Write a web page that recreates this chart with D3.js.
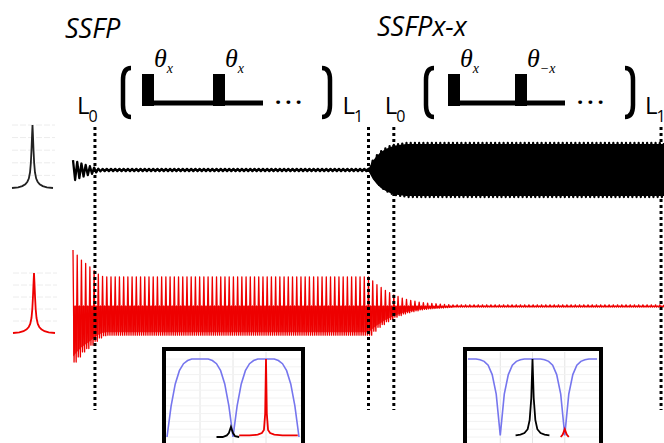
<!DOCTYPE html>
<html>
<head>
<meta charset="utf-8">
<script src="https://cdn.jsdelivr.net/npm/d3@7"></script>
<style>
  body { margin:0; background:#fff; }
  svg { display:block; }
</style>
</head>
<body>
<svg id="fig" width="664" height="443"></svg>
<script>
///////////////////////// DONNEES ////////////////////////
// titres des deux séquences
var blockTitles = ['SSFP', 'SSFPx-x'];
// impulsions de chaque bloc (position relative + label theta / indice)
var pulseT = [0, 1];
var pulseLabels1 = [['θ', 'x'], ['θ', 'x']];
var pulseLabels2 = [['θ', 'x'], ['θ', '−x']];

// repères L0 / L1, en nombre d'impulsions
var markerT = [5.2, 70, 76, 139.3];
var markerSubs = ['0', '1', '0', '1'];

// amplitude du signal à chaque impulsion (0 .. 140)
var blackAmp = [
  0.37, 0.3, 0.24, 0.19, 0.14, 0.09, 0.05,
  0.04, 0.04, 0.04, 0.04, 0.04, 0.04, 0.04, 0.04, 0.04, 0.04,
  0.04, 0.04, 0.04, 0.04, 0.04, 0.04, 0.04, 0.04, 0.04, 0.04,
  0.04, 0.04, 0.04, 0.04, 0.04, 0.04, 0.04, 0.04, 0.04, 0.04,
  0.04, 0.04, 0.04, 0.04, 0.04, 0.04, 0.04, 0.04, 0.04, 0.04,
  0.04, 0.04, 0.04, 0.04, 0.04, 0.04, 0.04, 0.04, 0.04, 0.04,
  0.04, 0.04, 0.04, 0.04, 0.04, 0.04, 0.04, 0.04, 0.04, 0.04,
  0.04, 0.04, 0.04,
  0.05, 0.35, 0.55, 0.7, 0.8, 0.88, 0.93, 0.96, 0.98,
  1, 1, 1, 1, 1, 1, 1, 1, 1, 1,
  1, 1, 1, 1, 1, 1, 1, 1, 1, 1,
  1, 1, 1, 1, 1, 1, 1, 1, 1, 1,
  1, 1, 1, 1, 1, 1, 1, 1, 1, 1,
  1, 1, 1, 1, 1, 1, 1, 1, 1, 1,
  1, 1, 1, 1, 1, 1, 1, 1, 1, 1,
  1, 1
];
var redAmp = [
  1, 0.91, 0.82, 0.76, 0.7, 0.63, 0.57, 0.53,
  0.52, 0.52, 0.52, 0.52, 0.52, 0.52, 0.52, 0.52, 0.52, 0.52,
  0.52, 0.52, 0.52, 0.52, 0.52, 0.52, 0.52, 0.52, 0.52, 0.52,
  0.52, 0.52, 0.52, 0.52, 0.52, 0.52, 0.52, 0.52, 0.52, 0.52,
  0.52, 0.52, 0.52, 0.52, 0.52, 0.52, 0.52, 0.52, 0.52, 0.52,
  0.52, 0.52, 0.52, 0.52, 0.52, 0.52, 0.52, 0.52, 0.52, 0.52,
  0.52, 0.52, 0.52, 0.52, 0.52, 0.52, 0.52, 0.52, 0.52, 0.52,
  0.52, 0.52,
  0.52, 0.45, 0.38, 0.33, 0.28, 0.24, 0.2, 0.17, 0.14, 0.12,
  0.1, 0.085, 0.07, 0.06, 0.05, 0.045, 0.04, 0.035, 0.03, 0.025,
  0.02, 0.02, 0.02, 0.02, 0.02, 0.02, 0.02, 0.02, 0.02, 0.02,
  0.02, 0.02, 0.02, 0.02, 0.02, 0.02, 0.02, 0.02, 0.02, 0.02,
  0.02, 0.02, 0.02, 0.02, 0.02, 0.02, 0.02, 0.02, 0.02, 0.02,
  0.02, 0.02, 0.02, 0.02, 0.02, 0.02, 0.02, 0.02, 0.02, 0.02,
  0.02, 0.02, 0.02, 0.02, 0.02, 0.02, 0.02, 0.02, 0.02, 0.02,
  0.02
];

// petits spectres à gauche (raie lorentzienne)
var specF = [-1, -0.7, -0.5, -0.35, -0.25, -0.18, -0.12, -0.08, -0.05, -0.02, 0,
             0.02, 0.05, 0.08, 0.12, 0.18, 0.25, 0.35, 0.5, 0.7, 1];
var specA = [0, 0.01, 0.03, 0.06, 0.1, 0.15, 0.25, 0.4, 0.6, 0.85, 1,
             0.85, 0.6, 0.4, 0.25, 0.15, 0.1, 0.06, 0.03, 0.01, 0];

// encadrés : profils en fréquence (33 points, indice 0 .. 32)
var blueSSFP = [0, 0.4, 0.68, 0.85, 0.94, 0.98, 1, 1, 1, 1, 1, 0.98, 0.94, 0.85, 0.68, 0.4,
                0, 0.4, 0.68, 0.85, 0.94, 0.98, 1, 1, 1, 1, 1, 0.98, 0.94, 0.85, 0.68, 0.4, 0];
var blueSSFPxx = [1, 1, 1, 0.99, 0.97, 0.92, 0.8, 0.55, 0.02, 0.55, 0.8, 0.92, 0.97, 0.99, 1, 1,
                  1, 1, 1, 0.99, 0.97, 0.92, 0.8, 0.55, 0.02, 0.55, 0.8, 0.92, 0.97, 0.99, 1, 1, 1];
// raies dans les encadrés
var redSSFPf = [17.5, 20, 22, 23, 23.5, 23.8, 24, 24.2, 24.5, 25, 26, 28, 31.7];
var redSSFPv = [0.02, 0.02, 0.03, 0.05, 0.09, 0.3, 1, 0.3, 0.09, 0.05, 0.03, 0.02, 0.02];
var blackSSFPf = [12, 13.5, 14.5, 15, 15.5, 16, 16.5, 17.5];
var blackSSFPv = [0, 0, 0.02, 0.05, 0.13, 0.05, 0.01, 0];
var blackXXf = [11.8, 13, 14, 14.8, 15.3, 15.7, 16, 16.3, 16.7, 17.2, 18, 19, 20.2];
var blackXXv = [0.02, 0.03, 0.05, 0.1, 0.22, 0.5, 1, 0.5, 0.22, 0.1, 0.05, 0.03, 0.02];
var redXXf = [23, 23.5, 24, 24.5, 25];
var redXXv = [0, 0.03, 0.1, 0.03, 0];

//////////////////// STYLES //////////////////////////////
var red = '#ee0000';
var blue = '#7676ee';
var sans = '"Open Sans", sans-serif';
var serif = '"Liberation Serif", serif';

var svg = d3.select('#fig');

//////////////////// SIGNAUX //////////////////////////////
var xT = d3.scaleLinear().domain([0, 140]).range([73, 664]);
var yBlack = d3.scaleLinear().domain([-1, 1]).range([197, 143]);
var yRed = d3.scaleLinear().domain([-1, 1]).range([362, 250]);

// oscillation noire : un aller-retour par impulsion
var blackPts = [];
blackAmp.forEach((a, k) => {
  blackPts.push([k, a]);
  if (k < blackAmp.length - 1) blackPts.push([k + 0.5, -a]);
});
// oscillation rouge : pic vers le haut, plus dense vers le bas
var redPts = [];
redAmp.forEach((a, k) => {
  redPts.push([k, a]);
  if (k < redAmp.length - 1) {
    redPts.push([k + 0.25, -a]);
    redPts.push([k + 0.5, 0]);
    redPts.push([k + 0.75, -a]);
  }
});

// enveloppe noire pleine (la bande est saturée sur la figure), après le transitoire
svg.append('path')
  .attr('d', d3.area()
    .defined((d, k) => k >= 7)
    .x((d, k) => xT(k))
    .y0(d => yBlack(-d * 0.96))
    .y1(d => yBlack(d * 0.96))(blackAmp))
  .attr('fill', '#000');

svg.append('path')
  .attr('d', d3.line().x(d => xT(d[0])).y(d => yBlack(d[1]))(blackPts))
  .attr('fill', 'none')
  .attr('stroke', '#000')
  .attr('stroke-width', 2.3)
  .attr('stroke-linejoin', 'round');

// moitié basse du rouge, dense sur la figure
svg.append('path')
  .attr('d', d3.area()
    .x((d, k) => xT(k))
    .y0(d => yRed(0))
    .y1(d => yRed(-d * 0.9))(redAmp))
  .attr('fill', red)
  .attr('opacity', 0.8);

svg.append('path')
  .attr('d', d3.line().x(d => xT(d[0])).y(d => yRed(d[1]))(redPts))
  .attr('fill', 'none')
  .attr('stroke', red)
  .attr('stroke-width', 1.3)
  .attr('stroke-linejoin', 'round');

//////////////////// SPECTRES A GAUCHE //////////////////////
function drawSpec(x0, x1, yBase, yTop, color) {
  var xs = d3.scaleLinear().domain([-1, 1]).range([x0, x1]);
  var ys = d3.scaleLinear().domain([0, 1]).range([yBase, yTop]);
  var g = svg.append('g');
  g.selectAll('line')
    .data(ys.ticks(6).slice(1))
    .enter()
    .append('line')
    .attr('x1', x0).attr('x2', x1 + 2)
    .attr('y1', d => ys(d)).attr('y2', d => ys(d))
    .attr('stroke', '#ececec')
    .attr('stroke-dasharray', '6,2');
  g.append('path')
    .attr('d', d3.line().x((d, i) => xs(specF[i])).y(d => ys(d))(specA))
    .attr('fill', 'none')
    .attr('stroke', color)
    .attr('stroke-width', 1.8);
}
drawSpec(12, 53, 188, 125, '#222');
drawSpec(13, 55, 333, 273, red);

//////////////////// REPERES L0 / L1 //////////////////////
var labelOffset = [-18, -26, -9, -16];
svg.selectAll('line.marker')
  .data(markerT)
  .enter()
  .append('line')
  .attr('class', 'marker')
  .attr('x1', d => xT(d)).attr('x2', d => xT(d))
  .attr('y1', 127).attr('y2', 410)
  .attr('stroke', '#000')
  .attr('stroke-width', 3)
  .attr('stroke-dasharray', '3,3');

markerT.forEach((t, i) => {
  var tx = svg.append('text')
    .attr('x', xT(t) + labelOffset[i]).attr('y', 114)
    .attr('font-family', sans).attr('font-size', 24);
  tx.append('tspan').text('L');
  tx.append('tspan').attr('font-size', 16).attr('dx', -1).attr('dy', 8).text(markerSubs[i]);
});

//////////////////// SCHEMAS D'IMPULSIONS //////////////////////
var blocks = [
  {title: blockTitles[0], titleX: 65, titleY: 38, labels: pulseLabels1, p0: 142, p1: 213, open: 121, close: 322},
  {title: blockTitles[1], titleX: 377, titleY: 36, labels: pulseLabels2, p0: 448, p1: 515, open: 424, close: 625}
];

function bracket(x, left) {
  var y0 = 68, y1 = 117, w = 10;
  var p = d3.path();
  var xe = left ? x + w : x;       // extrémités
  var xv = left ? x + 2 : x + w - 2; // trait vertical
  p.moveTo(xe, y0);
  p.quadraticCurveTo(xv, y0, xv, y0 + 12);
  p.lineTo(xv, y1 - 12);
  p.quadraticCurveTo(xv, y1, xe, y1);
  return p.toString();
}

blocks.forEach(b => {
  var xp = d3.scaleLinear().domain([0, 1]).range([b.p0, b.p1]);
  svg.append('text')
    .attr('x', b.titleX).attr('y', b.titleY)
    .attr('font-family', sans).attr('font-style', 'italic').attr('font-size', 27)
    .text(b.title);
  // ligne de base
  svg.append('line')
    .attr('x1', xp(0)).attr('x2', xp(1) + 50)
    .attr('y1', 103).attr('y2', 103)
    .attr('stroke', '#000').attr('stroke-width', 5);
  // impulsions
  svg.selectAll(null)
    .data(pulseT)
    .enter()
    .append('rect')
    .attr('x', d => xp(d)).attr('y', 74)
    .attr('width', 12).attr('height', 32)
    .attr('fill', '#000');
  pulseT.forEach((t, i) => {
    var tx = svg.append('text')
      .attr('x', xp(t) + 12).attr('y', 67)
      .attr('font-family', serif).attr('font-style', 'italic').attr('font-size', 26);
    tx.append('tspan').text(b.labels[i][0]);
    tx.append('tspan').attr('font-size', 14).attr('dy', 6).text(b.labels[i][1]);
  });
  svg.append('text')
    .attr('x', xp(1) + 62).attr('y', 104)
    .attr('font-family', sans).attr('font-weight', 'bold').attr('font-size', 22)
    .attr('letter-spacing', 4)
    .text('...');
  svg.append('path').attr('d', bracket(b.open, true))
    .attr('fill', 'none').attr('stroke', '#000').attr('stroke-width', 4.5);
  svg.append('path').attr('d', bracket(b.close, false))
    .attr('fill', 'none').attr('stroke', '#000').attr('stroke-width', 4.5);
});

//////////////////// ENCADRES //////////////////////
function drawInset(left, width, blueV, lines) {
  var xs = d3.scaleLinear().domain([0, 32]).range([left + 5, left + width - 6]);
  var ys = d3.scaleLinear().domain([0, 1]).range([437, 359]);
  var g = svg.append('g');
  g.append('rect')
    .attr('x', left + 2).attr('y', 349)
    .attr('width', width - 4).attr('height', 100)
    .attr('fill', '#fff').attr('stroke', '#000').attr('stroke-width', 4);
  // grille légère
  g.selectAll('line.gx').data([8, 16, 24]).enter().append('line')
    .attr('x1', d => xs(d)).attr('x2', d => xs(d))
    .attr('y1', 352).attr('y2', 443)
    .attr('stroke', '#e4e4e4');
  g.selectAll('line.gy').data(ys.ticks(8)).enter().append('line')
    .attr('x1', left + 4).attr('x2', left + width - 4)
    .attr('y1', d => ys(d)).attr('y2', d => ys(d))
    .attr('stroke', '#f2f2f2');
  g.append('path')
    .attr('d', d3.line().x((d, i) => xs(i)).y(d => ys(d))(blueV))
    .attr('fill', 'none').attr('stroke', blue).attr('stroke-width', 1.6);
  lines.forEach(l => {
    g.append('path')
      .attr('d', d3.line().x((d, i) => xs(l.f[i])).y(d => ys(d))(l.v))
      .attr('fill', 'none').attr('stroke', l.color).attr('stroke-width', 1.8);
  });
}
drawInset(162, 143, blueSSFP, [
  {f: blackSSFPf, v: blackSSFPv, color: '#000'},
  {f: redSSFPf, v: redSSFPv, color: red}
]);
drawInset(463, 140, blueSSFPxx, [
  {f: blackXXf, v: blackXXv, color: '#000'},
  {f: redXXf, v: redXXv, color: red}
]);
</script>
</body>
</html>
